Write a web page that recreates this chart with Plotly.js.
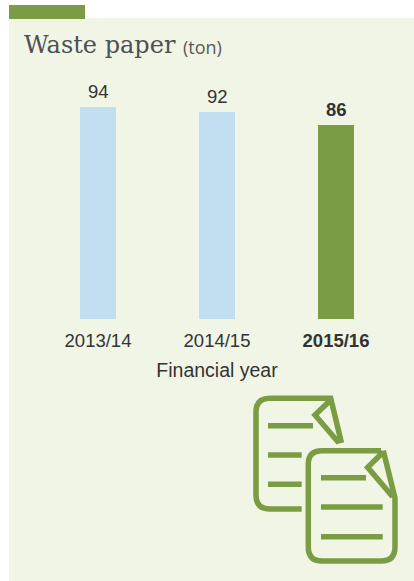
<!DOCTYPE html>
<html>
<head>
<meta charset="utf-8">
<script src="https://cdn.plot.ly/plotly-3.0.1.min.js"></script>
<style>html,body{margin:0;padding:0;background:#fff}#chart{width:414px;height:581px}</style>
</head>
<body>
<div id="chart"></div>
<script>
const years = ['2013/14', '2014/15', '<b>2015/16</b>'];
const waste = [94, 92, 86];
const valueLabels = ['94', '92', '<b>86</b>'];
const barColors = ['#c2dff2', '#c2dff2', '#7a9c43'];
const titleMain = 'Waste paper';
const titleUnit = '(ton)';
const axisTitle = 'Financial year';

const W = 414, H = 581;
const green = '#7a9c43';
const px = (x) => x / W;
const py = (y) => 1 - y / H;
// Decoration outline: [x, y] points in window pixels, converted to paper fractions.
const pathOf = (cmds) => cmds.map(c => {
  const [op, ...n] = c;
  let s = op;
  for (let i = 0; i < n.length; i += 2) s += (i ? ',' : ' ') + px(n[i]).toFixed(5) + ',' + py(n[i+1]).toFixed(5);
  return s;
}).join(' ');
const stroke = (cmds, width) => ({type:'path', xref:'paper', yref:'paper', path:pathOf(cmds), line:{color:green,width}, fillcolor:'rgba(0,0,0,0)', layer:'above'});
const block = (x0,x1,y0,y1,color) => ({type:'rect', xref:'paper', yref:'paper', x0:px(x0), x1:px(x1), y0:py(y0), y1:py(y1), fillcolor:color, line:{width:0}, layer:'below'});

const shapes = [
  block(9, 414, 18, 581, '#f1f5e6'),
  block(9, 85, 5, 19, green),
  stroke([['M',301.7,509],['L',270,509],['Q',256,509,256,495],['L',256,412],['Q',256,398.3,270,398.3],['L',330.7,398.3],['L',341.5,443],['M',330.7,400],['L',315,415],['L',339,443]], 5.5),
  stroke([['M',381,450.7],['L',322,450.7],['Q',308.3,450.7,308.3,464],['L',308.3,547],['Q',308.3,561,322,561],['L',381,561],['Q',395,561,395,547],['L',395,498],['L',383.3,450.7],['M',383.3,452],['L',367.7,467.3],['L',392.7,496.7]], 5.5),
  stroke([['M',268,425.7],['L',313,425.7]], 5.5),
  stroke([['M',268,455],['L',301.7,455]], 5.5),
  stroke([['M',268,484.3],['L',301.7,484.3]], 5.5),
  stroke([['M',321,477.7],['L',366,477.7]], 5.5),
  stroke([['M',321,507],['L',382.7,507]], 5.5),
  stroke([['M',321,536.7],['L',382.7,536.7]], 5.5)
];

const annotations = [
  {xref:'paper', yref:'paper', x:px(22), y:py(45), xanchor:'left', yanchor:'middle', showarrow:false, text:titleMain, font:{family:'DejaVu Serif', size:24, color:'#4f5052'}},
  {xref:'paper', yref:'paper', x:px(181), y:py(47), xanchor:'left', yanchor:'middle', showarrow:false, text:titleUnit, font:{family:'Open Sans', size:18, color:'#58595b'}}
].concat(years.map((c, i) => ({xref:'x', yref:'y', x:c, y:waste[i], xanchor:'center', yanchor:'bottom', yshift:3, showarrow:false, text:valueLabels[i], font:{family:'Liberation Sans', size:18.5, color:'#333333'}})));

const trace = {type:'bar', x:years, y:waste, width:0.3025, marker:{color:barColors, line:{width:0}}, cliponaxis:false, hoverinfo:'skip'};

const layout = {
  width:W, height:H, margin:{l:0,r:0,t:0,b:0}, paper_bgcolor:'#ffffff', plot_bgcolor:'rgba(0,0,0,0)', showlegend:false,
  xaxis:{domain:[38.5/W, 395.5/W], type:'category', showgrid:false, zeroline:false, showline:false, ticks:'outside', ticklen:5, tickcolor:'rgba(0,0,0,0)', tickfont:{family:'Liberation Sans', size:18.5, color:'#333333'}, title:{text:axisTitle, standoff:13, font:{family:'Liberation Sans', size:19.5, color:'#333333'}}, automargin:false},
  yaxis:{domain:[(H-319)/H, (H-60)/H], range:[0,114.9], showgrid:false, zeroline:false, showline:false, showticklabels:false, ticks:''},
  bargap:0, shapes, annotations
};
Plotly.newPlot('chart', [trace], layout, {displayModeBar:false, staticPlot:true});
</script>
</body>
</html>
